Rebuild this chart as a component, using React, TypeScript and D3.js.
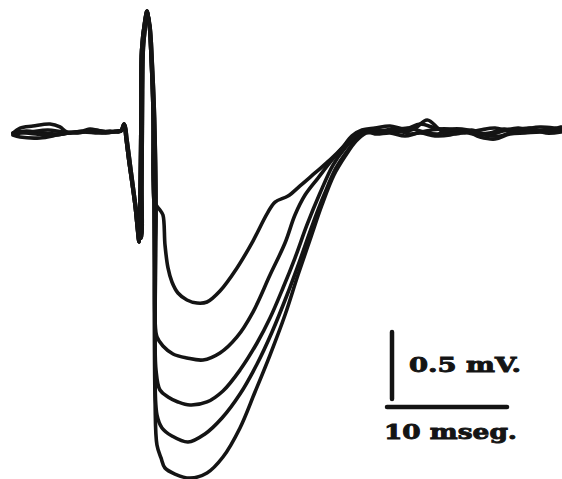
import React from "react";
import * as d3 from "d3";

type Pt = [number, number]; // [time (ms), potential (mV)]

// Pre-stimulus baseline segments
const leftA: Pt[] = [[-10.92,-0.015],[-10.33,0.022],[-9.25,0.037],[-7.83,0.052],[-7.0,0.03],[-6.42,-0.007],[-5.08,0.0],[-4.5,0.015],[-3.67,0.0],[-2.83,-0.007],[-2.17,0.0]];
const leftB: Pt[] = [[-10.92,-0.03],[-10.33,-0.045],[-8.67,-0.052],[-7.25,-0.03],[-6.42,-0.015],[-5.08,-0.007],[-4.5,0.007],[-3.67,-0.007],[-2.83,0.0],[-2.17,-0.007]];
const leftC: Pt[] = [[-10.92,-0.015],[-9.8,0.0],[-8.5,-0.015],[-7.0,-0.022],[-5.75,-0.007],[-4.5,0.0],[-3.2,-0.015],[-2.17,0.0]];
const leftD: Pt[] = [[-10.92,-0.022],[-9.5,-0.007],[-8.0,0.007],[-6.8,-0.007],[-5.5,-0.015],[-4.2,0.007],[-3.0,-0.007],[-2.17,0.0]];
const leftE: Pt[] = [[-10.5,-0.007],[-9.0,-0.022],[-7.5,-0.03],[-6.2,-0.015],[-5.0,-0.007],[-3.8,-0.015],[-2.6,-0.007],[-2.17,-0.007]];

// Stimulus artifact
const artifactA: Pt[] = [[-1.92,0],[-1.67,0.052],[-1.5,-0.052],[-1.25,-0.231],[-1.0,-0.388],[-0.75,-0.552],[-0.58,-0.701],[-0.42,-0.828],[-0.33,-0.515],[-0.25,0.157],[-0.2,0.604],[0.08,0.828],[0.25,0.896],[0.42,0.813],[0.6,0.53],[0.75,0.157],[0.83,-0.515]];
const artifactB: Pt[] = [[-1.83,0.007],[-1.6,0.045],[-1.42,-0.06],[-1.1,-0.28],[-0.85,-0.45],[-0.6,-0.62],[-0.42,-0.78],[-0.25,-0.8],[-0.17,-0.4],[-0.12,0.3],[-0.05,0.62],[0.15,0.8],[0.27,0.88],[0.5,0.78],[0.72,0.45],[0.88,0.1],[1.0,-0.6]];

// Evoked responses, increasing stimulus strength
const response1: Pt[] = [[1.0,-0.552],[1.33,-0.59],[1.58,-0.627],[1.75,-0.851],[2.0,-1.022],[2.33,-1.127],[2.83,-1.209],[3.58,-1.261],[4.42,-1.284],[5.25,-1.276],[6.33,-1.194],[7.75,-1.022],[9.08,-0.821],[10.25,-0.619],[10.92,-0.53],[12.0,-0.485],[13.0,-0.41],[14.25,-0.313],[15.5,-0.216],[16.5,-0.127],[17.33,-0.037],[18.17,0.007]];
const response2: Pt[] = [[0.92,-0.888],[0.92,-1.41],[1.08,-1.537],[1.58,-1.604],[2.42,-1.664],[3.58,-1.694],[4.92,-1.709],[6.33,-1.657],[7.75,-1.537],[9.08,-1.351],[10.5,-1.075],[11.75,-0.836],[12.58,-0.627],[13.42,-0.478],[14.5,-0.351],[15.67,-0.216],[16.75,-0.104],[17.58,-0.03],[18.42,0.007]];
const response3: Pt[] = [[0.92,-1.261],[1.0,-1.784],[1.33,-1.933],[2.0,-1.985],[2.83,-2.022],[3.83,-2.045],[5.25,-2.022],[6.58,-1.94],[8.0,-1.784],[9.42,-1.582],[10.5,-1.396],[11.58,-1.172],[12.58,-0.948],[13.58,-0.701],[14.67,-0.463],[15.75,-0.254],[16.75,-0.127],[17.75,-0.037],[18.58,0.0]];
const response4: Pt[] = [[0.92,-1.634],[1.08,-2.119],[1.5,-2.216],[2.33,-2.276],[3.67,-2.321],[5.08,-2.261],[6.5,-2.142],[8.0,-1.963],[9.42,-1.739],[10.67,-1.5],[11.92,-1.224],[13.0,-0.963],[14.0,-0.709],[15.0,-0.478],[16.0,-0.276],[17.0,-0.142],[17.83,-0.052],[18.83,0.0]];
const response5: Pt[] = [[0.92,-2.007],[1.08,-2.343],[1.42,-2.44],[1.75,-2.515],[2.58,-2.56],[3.83,-2.59],[5.25,-2.552],[6.58,-2.433],[8.0,-2.216],[9.25,-1.948],[10.5,-1.672],[11.75,-1.373],[12.83,-1.075],[13.83,-0.813],[14.83,-0.552],[15.83,-0.328],[16.83,-0.179],[17.67,-0.075],[18.5,-0.015]];

// Recovery baseline segments
const rightA: Pt[] = [[19.25,0.022],[20.5,0.037],[21.75,0.015],[23.0,0.052],[24.25,0.022],[25.5,0.0],[26.75,-0.015],[28.0,0.007],[29.25,0.022],[30.5,0.0],[31.75,0.015],[33.0,0.03],[34.25,0.022],[34.75,0.015]];
const rightB: Pt[] = [[19.25,-0.022],[20.5,-0.015],[21.75,-0.037],[23.0,-0.015],[24.25,-0.037],[25.5,-0.03],[26.75,0.0],[28.0,-0.045],[29.25,-0.06],[30.5,-0.022],[31.75,-0.015],[33.0,-0.007],[34.25,-0.007],[34.75,0.0]];
const rightC: Pt[] = [[19.5,0.007],[21.0,-0.007],[22.5,0.015],[23.6,0.082],[24.8,0.0],[26.0,-0.022],[27.3,0.007],[28.6,-0.03],[29.9,0.0],[31.2,0.022],[32.5,-0.007],[33.8,0.007],[34.75,0.03]];
const rightD: Pt[] = [[19.4,-0.007],[20.8,0.015],[22.2,-0.022],[23.5,0.0],[24.7,0.015],[26.2,0.007],[27.5,-0.022],[28.8,-0.015],[30.0,0.015],[31.4,-0.007],[32.7,0.0],[34.0,0.015],[34.75,0.007]];
const rightE: Pt[] = [[19.3,-0.015],[20.6,0.0],[22.0,0.022],[23.3,-0.007],[24.5,-0.022],[25.8,0.015],[27.0,0.007],[28.4,-0.03],[29.7,-0.037],[31.0,0.007],[32.2,0.022],[33.5,-0.015],[34.75,-0.007]];

const traces: Pt[][] = [
  [...leftA, ...artifactA, ...response1, ...rightA],
  [...leftB, ...artifactB, ...response2, ...rightB],
  [...leftC, ...artifactA, ...response3, ...rightC],
  [...leftD, ...artifactB, ...response4, ...rightD],
  [...leftE, ...artifactA, ...response5, ...rightE],
];

// Calibration bars
const calVoltage = 0.5; // mV
const calTime = 10; // ms
const calVoltageLabel = "0.5 mV.";
const calTimeLabel = "10 mseg.";

const W = 562;
const H = 479;

export default function App() {
  const x = d3.scaleLinear().domain([-11, 34.75]).range([12, 561]);
  const y = d3.scaleLinear().domain([-2.7, 1.0]).range([131 + 2.7 * 134, 131 - 134]);
  const line = d3
    .line<Pt>()
    .x((d) => x(d[0]))
    .y((d) => y(d[1]))
    .curve(d3.curveCatmullRom.alpha(0.5));

  const vLen = y(0) - y(calVoltage);
  const hLen = x(calTime) - x(0);
  const barX = 392;
  const barBottom = 399;
  const hBarX = 387;
  const hBarY = 407;

  return (
    <svg
      width={W}
      height={H}
      style={{ position: "absolute", left: 0, top: 0, background: "#fff" }}
    >
      <g fill="none" stroke="#141414" strokeWidth={3.6} strokeLinejoin="round" strokeLinecap="round">
        {traces.map((t, i) => (
          <path key={i} d={line(t) || ""} />
        ))}
      </g>
      <g stroke="#141414" strokeLinecap="round">
        <line x1={barX} x2={barX} y1={barBottom} y2={barBottom - vLen} strokeWidth={4.5} />
        <line x1={hBarX} x2={hBarX + hLen} y1={hBarY} y2={hBarY} strokeWidth={4.5} />
      </g>
      <g
        fill="#141414"
        stroke="#141414"
        strokeWidth={0.9}
        fontFamily="'DejaVu Serif', serif"
        fontWeight="bold"
        fontSize={20}
      >
        <text x={409} y={372} textLength={112} lengthAdjust="spacingAndGlyphs">
          {calVoltageLabel}
        </text>
        <text x={384} y={439} textLength={133} lengthAdjust="spacingAndGlyphs">
          {calTimeLabel}
        </text>
      </g>
    </svg>
  );
}
